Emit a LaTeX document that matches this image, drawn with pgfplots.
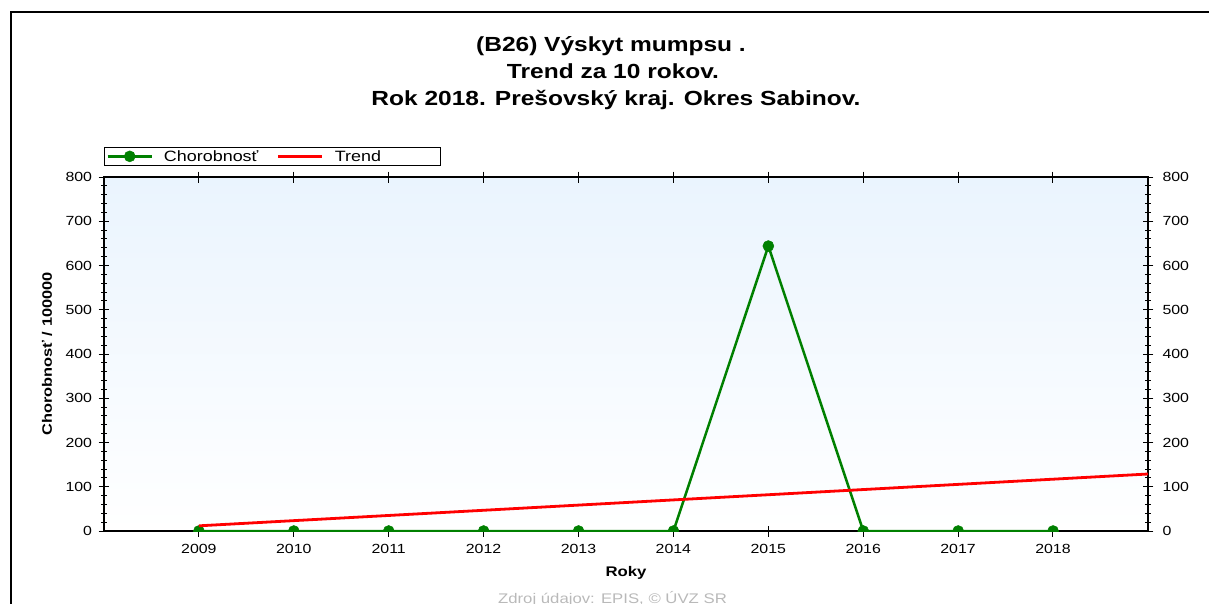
\documentclass[border=0pt]{standalone}
\usepackage{fontspec}
\setmainfont[FakeStretch=1.2]{Liberation Sans}
\usepackage{pgfplots}
\pgfplotsset{compat=1.18}
\definecolor{cgreen}{RGB}{0,128,0}
\definecolor{cred}{RGB}{255,0,0}
\definecolor{bgtop}{RGB}{234,244,254}
\definecolor{srcgrey}{RGB}{185,185,185}
\begin{document}
\begin{tikzpicture}
\useasboundingbox (-104bp,-73bp) rectangle (1105bp,531bp);
\draw[line width=1.6bp] (-93bp,-80bp) -- (-93bp,519bp) -- (1110bp,519bp);
\begin{axis}[
  at={(0,0)}, anchor=south west, scale only axis,
  width=1044bp, height=354bp,
  xmin=2008, xmax=2019, ymin=0, ymax=800,
  xtick={2009,...,2018}, ytick={0,100,...,800}, minor y tick num=4,
  xtick pos=both, ytick pos=both,
  tick align=center, major tick length=11bp, minor tick length=6bp,
  tick style={black, line width=1bp},
  axis line style={black, line width=1.2bp},
  axis background/.style={top color=bgtop, bottom color=white},
  /pgf/number format/assume math mode=true,
  /pgf/number format/1000 sep={},
  ticklabel style={font=\fontsize{13.3}{16}\selectfont},
  xticklabel style={yshift=-4bp},
  yticklabel style={xshift=-3bp},
  xlabel={\textbf{Roky}},
  ylabel={\textbf{Chorobnosť / 100000}},
  every axis x label/.style={at={(axis description cs:0.5,-0.1186)}, anchor=center, font=\fontsize{14}{16}\selectfont},
  every axis y label/.style={at={(axis description cs:-0.0546,0.5)}, rotate=90, anchor=center, font=\fontsize{13.7}{16}\selectfont},
  clip marker paths=true,
  legend columns=2,
  legend style={at={(axis description cs:0,1)}, anchor=south west, yshift=11bp,
    draw=black, line width=1bp, inner xsep=2bp, inner ysep=1bp,
    font=\fontsize{15}{18}\selectfont,
    nodes={inner sep=2bp},
    /tikz/every odd column/.append style={column sep=9bp},
    /tikz/every even column/.append style={column sep=16bp}},
  legend image code/.code={\draw[mark repeat=2, mark phase=2, #1] plot coordinates {(0bp,0bp) (22bp,0bp) (44bp,0bp)};},
]
\addplot[color=cgreen, line width=2.5bp, mark=*, mark size=5.5bp, mark options={fill=cgreen, draw=cgreen, line width=0.5bp}] coordinates {
  (2009,0) (2010,0) (2011,0) (2012,0) (2013,0) (2014,0) (2015,644) (2016,0) (2017,0) (2018,0)
};
\addlegendentry{\makebox[95bp][l]{Chorobnosť}}
\addplot[color=cred, line width=2.8bp, mark=none] coordinates {
  (2009,11.7) (2019,128.8)
};
\addlegendentry{\makebox[102bp][l]{Trend}}
\end{axis}
\begin{axis}[
  at={(0,0)}, anchor=south west, scale only axis,
  width=1044bp, height=354bp,
  xmin=2008, xmax=2019, ymin=0, ymax=800,
  ytick={0,100,...,800},
  hide x axis,
  ytick pos=right, yticklabel pos=right,
  axis line style={draw=none}, tick style={draw=none},
  major tick length=11bp,
  /pgf/number format/assume math mode=true,
  ticklabel style={font=\fontsize{13.3}{16}\selectfont},
  yticklabel style={xshift=11bp},
]
\addplot[draw=none] coordinates {(2009,0)};
\end{axis}
\node[anchor=base, font=\fontsize{20.5}{24}\selectfont\bfseries] at (507bp,479bp) {(B26) Výskyt mumpsu .};
\node[anchor=base, font=\fontsize{20.5}{24}\selectfont\bfseries] at (509bp,452bp) {Trend za 10 rokov.};
\node[anchor=base, font=\fontsize{20.5}{24}\selectfont\bfseries] at (512bp,425bp) {Rok 2018. Prešovský kraj. Okres Sabinov.};
\node[anchor=base, text=srcgrey, font=\fontsize{14}{16}\selectfont] at (508.5bp,-72bp) {Zdroj údajov: EPIS, © ÚVZ SR};
\end{tikzpicture}
\end{document}
